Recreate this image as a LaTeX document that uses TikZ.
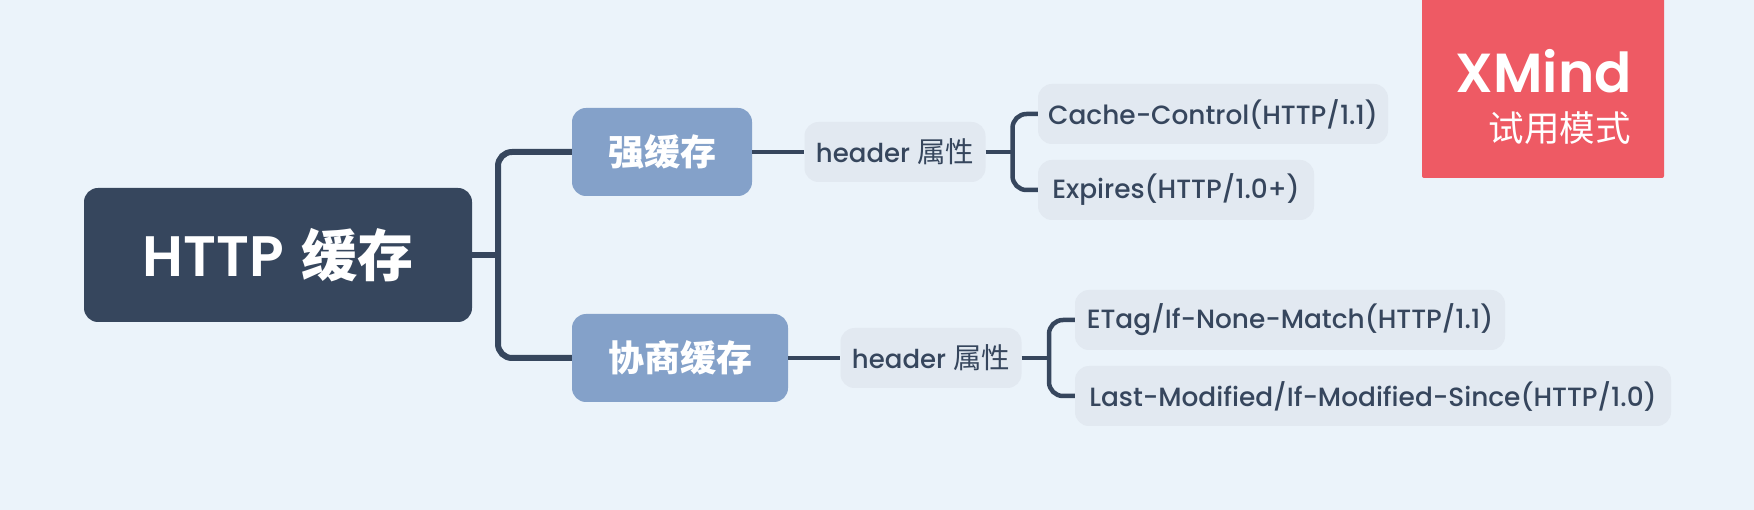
\documentclass[tikz,border=0pt]{standalone}
\usepackage{xcolor}
\usepackage{fontspec}
\setmainfont[BoldFont={Poppins SemiBold}]{Poppins Medium}
\newfontfamily\cjk{Noto Sans CJK SC}
\definecolor{bgcol}{HTML}{EBF3FA}
\definecolor{darkcol}{HTML}{36465D}
\definecolor{midcol}{HTML}{84A1C9}
\definecolor{palecol}{HTML}{E2E9F1}
\definecolor{redcol}{HTML}{EE5A64}
\newcommand{\attrlabel}{{\fontsize{26}{32}\selectfont header} {\cjk\fontsize{28.5}{32}\selectfont 属性}}
\tikzset{
	rootbox/.style={fill=darkcol,text=white,rounded corners=14pt,inner sep=0pt,minimum height=134pt,font=\fontsize{57}{60}\selectfont\bfseries},
	midbox/.style={fill=midcol,text=white,rounded corners=14pt,inner sep=0pt,minimum height=88pt,font=\fontsize{36}{40}\selectfont\bfseries},
	leafbox/.style={fill=palecol,text=darkcol,rounded corners=14pt,inner sep=0pt,minimum height=60pt,font=\fontsize{26.4}{32}\selectfont},
	trunkline/.style={draw=darkcol,line width=6pt},
	twigline/.style={draw=darkcol,line width=4.5pt},
}
\begin{document}
\begin{tikzpicture}[x=1pt,y=-1pt]
	\useasboundingbox[fill=bgcol] (0,0) rectangle (1754,510);

	% Knoten
	\node[rootbox,minimum width=388pt] (root) at (278,255) {HTTP\kern4pt\ {\cjk\fontsize{56}{60}\selectfont 缓存}};
	\node[midbox,minimum width=180pt] (strong) at (662,152) {\cjk 强缓存};
	\node[midbox,minimum width=216pt] (nego) at (680,358) {\cjk 协商缓存};
	\node[leafbox,minimum width=181pt] (heada) at (895,152) {\attrlabel};
	\node[leafbox,minimum width=181pt] (headb) at (931,358) {\attrlabel};
	\node[leafbox,minimum width=350pt] (cache) at (1213,114) {Cache-Control(HTTP/1.1)};
	\node[leafbox,minimum width=276pt] (expires) at (1176,190) {Expires(HTTP/1.0+)};
	\node[leafbox,minimum width=430pt] (etag) at (1290,320) {ETag/If-None-Match(HTTP/1.1)};
	\node[leafbox,minimum width=596pt] (last) at (1373,396) {Last-Modified/If-Modified-Since(HTTP/1.0)};

	% Abzweige
	\coordinate (trunk) at (498,255);
	\coordinate (forka) at (1012.5,152);
	\coordinate (forkb) at (1049,358);

	% Linien
	\draw[trunkline] (root.east) -- (trunk);
	\draw[trunkline,rounded corners=14pt] (strong.west) -| (trunk) |- (nego.west);
	\draw[twigline] (strong.east) -- (heada.west);
	\draw[twigline] (nego.east) -- (headb.west);
	\draw[twigline] (heada.east) -- (forka);
	\draw[twigline] (headb.east) -- (forkb);
	\draw[twigline,rounded corners=14pt] (cache.west) -| (forka) |- (expires.west);
	\draw[twigline,rounded corners=14pt] (etag.west) -| (forkb) |- (last.west);

	% Testmarke
	\node[fill=redcol,rounded corners=2pt,inner sep=0pt,minimum width=242pt,minimum height=188pt] (mark) at (1543,84) {};
	\node[anchor=base east,inner sep=0pt,text=white,font=\fontsize{55}{56}\selectfont\bfseries] (brand) at (1632,93) {XMind};
	\node[anchor=base east,inner sep=0pt,text=white,font=\fontsize{35.5}{40}\selectfont] (trial) at (1631,142) {\cjk 试用模式};
\end{tikzpicture}
\end{document}
